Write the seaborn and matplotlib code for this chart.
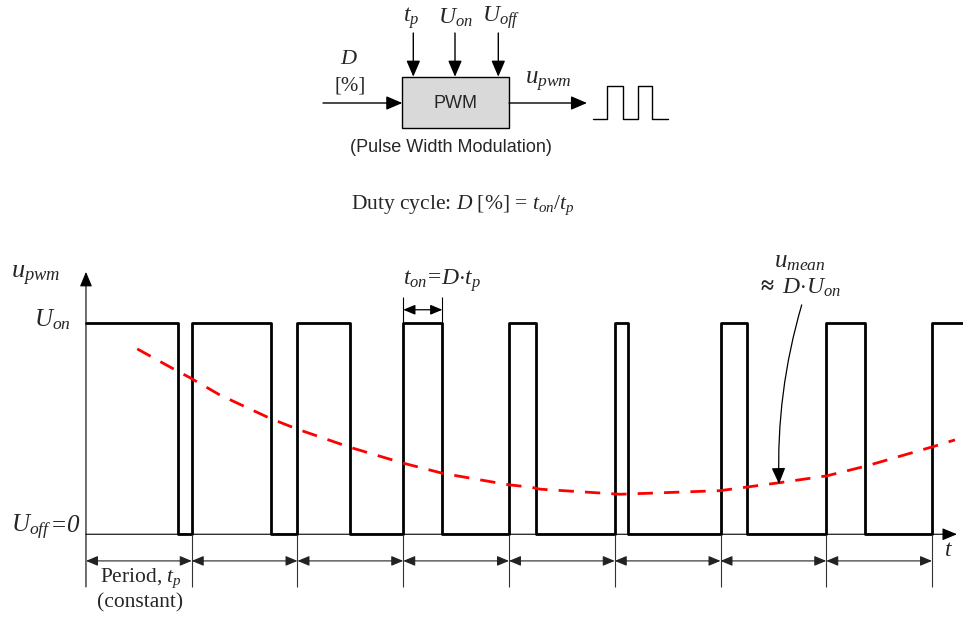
import matplotlib
matplotlib.use('Agg')
import matplotlib.pyplot as plt
import seaborn as sns
from matplotlib.patches import Rectangle

sns.set_theme(style='white')
plt.rcParams['font.family'] = ['Liberation Serif', 'DejaVu Serif']
plt.rcParams['mathtext.fontset'] = 'custom'
plt.rcParams['mathtext.rm'] = 'Liberation Serif'
plt.rcParams['mathtext.it'] = 'Liberation Serif:italic'
plt.rcParams['mathtext.bf'] = 'Liberation Serif:bold'

# duty cycle of each period (fraction of t_p)
duty = [0.87, 0.75, 0.50, 0.37, 0.255, 0.13, 0.25, 0.37]
t_end = 8.29          # last pulse runs off the right edge

# mean value (red dashed curve)
mean_t = [0.485, 0.858, 0.983, 1.267, 1.740, 1.992, 2.496, 3.000, 3.373,
          3.993, 4.215, 4.293, 5.050, 5.995, 6.563, 7.004, 7.382, 8.009, 8.217]
mean_v = [0.876, 0.773, 0.740, 0.658, 0.548, 0.498, 0.411, 0.336, 0.288,
          0.234, 0.222, 0.213, 0.189, 0.206, 0.244, 0.276, 0.323, 0.414, 0.446]

# small square wave in the block diagram (pixel coords)
icon_x = [593, 607, 607, 623, 623, 638, 638, 652, 652, 668]
icon_y = [119, 119, 86, 86, 119, 119, 86, 86, 119, 119]

# build the pwm waveform from the duty cycles
ts, vs = [], []
for k, d in enumerate(duty):
    ts += [k, k + d, k + d, k + 1]
    vs += [1, 1, 0, 0]
ts += [len(duty), t_end]
vs += [1, 1]

fig = plt.figure(figsize=(9.63, 6.21), dpi=100)

# waveform axes: x in periods, y in units of U_on
ax = fig.add_axes([0, 0, 1, 1])
ax.set_xlim(-0.813, 8.293)
ax.set_ylim(-0.410, 2.525)
ax.axis('off')

# overlay axes in pixel coordinates for the block diagram and labels
ax2 = fig.add_axes([0, 0, 1, 1])
ax2.set_xlim(0, 963)
ax2.set_ylim(621, 0)
ax2.axis('off')
ax2.patch.set_alpha(0)

sns.lineplot(x=ts, y=vs, sort=False, estimator=None, color='black', lw=2, ax=ax)
sns.lineplot(x=mean_t, y=mean_v, sort=False, estimator=None, color='#ff0000',
             lw=2, ax=ax).lines[-1].set_dashes((5.5, 4))

head = '-|>,head_length=0.6,head_width=0.25'
# axes
ax.annotate('', xy=(0, 1.240), xytext=(0, -0.249),
            arrowprops=dict(arrowstyle=head, color='black', lw=0.8,
                            mutation_scale=15, shrinkA=0, shrinkB=0))
ax.annotate('', xy=(8.236, 0), xytext=(0, 0),
            arrowprops=dict(arrowstyle=head, color='black', lw=0.8,
                            mutation_scale=15, shrinkA=0, shrinkB=0))

# period dimension arrows
n = len(duty)
ax.vlines(range(1, n + 1), -0.249, 0, color='#333333', lw=0.8)
for k in range(n):
    ax.annotate('', xy=(k + 1, -0.126), xytext=(k, -0.126),
                arrowprops=dict(arrowstyle='<|-|>,head_length=0.6,head_width=0.25',
                                color='#222222', lw=0.8, mutation_scale=12,
                                shrinkA=0, shrinkB=0))

# t_on dimension
ax.vlines([3, 3 + duty[3]], 1, 1.123, color='black', lw=0.8)
ax.annotate('', xy=(3 + duty[3], 1.061), xytext=(3, 1.061),
            arrowprops=dict(arrowstyle='<|-|>,head_length=0.6,head_width=0.25',
                            color='black', lw=0.9, mutation_scale=12,
                            shrinkA=0, shrinkB=0))

# u_mean pointer
ax.annotate('', xy=(6.553, 0.238), xytext=(6.768, 1.084),
            arrowprops=dict(arrowstyle='-|>,head_length=0.7,head_width=0.3',
                            color='black', lw=0.9, mutation_scale=14,
                            shrinkA=0, shrinkB=0,
                            connectionstyle='arc3,rad=0.08'))

# labels of the waveform
ax2.text(36, 276, r'$u_{pwm}$', fontsize=19, ha='center', va='center')
ax2.text(52, 320, r'$U_{on}$', fontsize=18, ha='center', va='center')

# U_off=0 with an italic zero, pieces put side by side on one baseline
rend = fig.canvas.get_renderer()
x_cur = 11
for s, st in [(r'$U_{off}$', 'normal'), ('=', 'normal'), ('0', 'italic')]:
    t = ax2.text(x_cur, 532, s, fontsize=18, style=st, ha='left', va='baseline')
    bb = t.get_window_extent(rend).transformed(ax2.transData.inverted())
    x_cur = bb.x1

ax2.text(949, 550, r'$t$', fontsize=17, ha='center', va='center')
ax2.text(442, 281, r'$t_{on}\!=\!D{\cdot}t_p$', fontsize=17, ha='center', va='center')
ax2.text(800, 262, r'$u_{mean}$', fontsize=18, ha='center', va='center')
ax2.text(799, 288, r'$\mathbf{\approx}\ D{\cdot}U_{on}$', fontsize=17,
         ha='center', va='center')
ax2.text(141, 578, r'Period, $t_p$', fontsize=15.5, ha='center', va='center')
ax2.text(140, 603, '(constant)', fontsize=15.5, ha='center', va='center')

# duty cycle formula
ax2.text(463, 205, r'Duty cycle: $D$ [%] = $t_{on}$/$t_p$', fontsize=15.5,
         ha='center', va='center')

# block diagram
ax2.add_patch(Rectangle((402.3, 76.7), 106.7, 51.6, facecolor='#d9d9d9',
                        edgecolor='black', lw=1))
ax2.text(455.7, 103, 'PWM', fontsize=13, family='Liberation Sans',
         ha='center', va='center')
ax2.text(451, 148, '(Pulse Width Modulation)', fontsize=13,
         family='Liberation Sans', ha='center', va='center')

bhead = '-|>,head_length=0.7,head_width=0.3'
for x0, y0, x1, y1 in [(323, 103, 402.3, 103), (509, 103, 587, 103),
                       (413.3, 33, 413.3, 76.7), (455, 33, 455, 76.7),
                       (498.3, 33, 498.3, 76.7)]:
    ax2.annotate('', xy=(x1, y1), xytext=(x0, y0),
                 arrowprops=dict(arrowstyle=bhead, color='black', lw=1,
                                 mutation_scale=14, shrinkA=0, shrinkB=0))

ax2.plot(icon_x, icon_y, color='black', lw=1)

ax2.text(411, 18, r'$t_p$', fontsize=17, ha='center', va='center')
ax2.text(455, 18, r'$U_{on}$', fontsize=17, ha='center', va='center')
ax2.text(501, 18, r'$U_{off}$', fontsize=17, ha='center', va='center')
ax2.text(349, 59, r'$D$', fontsize=16, ha='center', va='center')
ax2.text(350, 86, '[%]', fontsize=15, ha='center', va='center')
ax2.text(548, 82, r'$u_{pwm}$', fontsize=18, ha='center', va='center')

fig.savefig('out.png', dpi=100)
